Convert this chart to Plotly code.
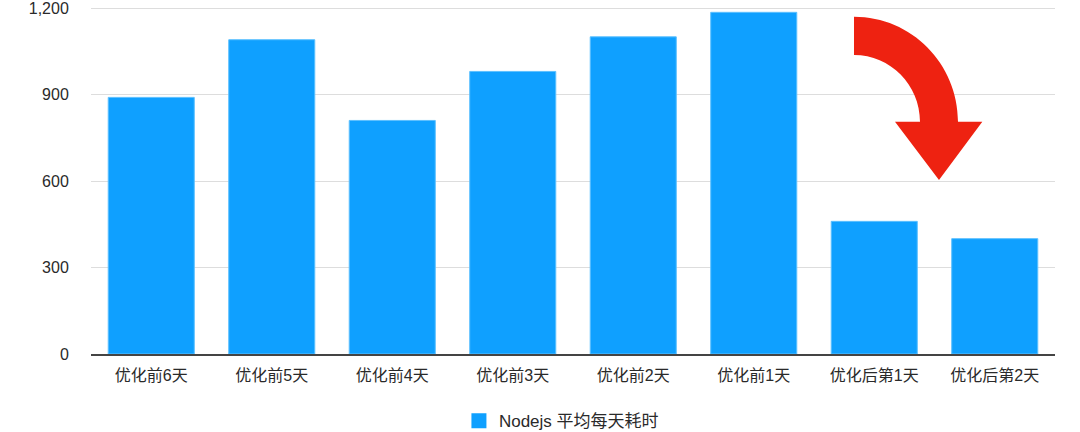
import plotly.graph_objects as go

categories = ["优化前6天", "优化前5天", "优化前4天", "优化前3天", "优化前2天", "优化前1天", "优化后第1天", "优化后第2天"]
values = [890, 1090, 810, 980, 1100, 1185, 460, 400]
series_name = "Nodejs 平均每天耗时"
y_ticks = [0, 300, 600, 900, 1200]

W, H = 1080, 432
L, R, T, B = 91, 25, 0, 78
pw, ph = W - L - R, H - T - B
y_top = 1200 * ph / 346.0  # 1200 gridline sits 8px below the top

def px(x, y):
    return (x - L) / pw, (H - B - y) / ph

def arrow_path():
    k = 0.5523
    cx, cy = 854, 121.7
    ro_x, ro_y = 104, 105
    ri_x, ri_y = 66, 66.7
    def p(x, y):
        a, b = px(x, y)
        return f"{a:.5f},{b:.5f}"
    d = f"M {p(cx, cy - ro_y)} "
    d += f"C {p(cx + k*ro_x, cy - ro_y)} {p(cx + ro_x, cy - k*ro_y)} {p(cx + ro_x, cy)} "
    d += f"L {p(982.3, cy)} L {p(939, 180)} L {p(895, cy)} L {p(cx + ri_x, cy)} "
    d += f"C {p(cx + ri_x, cy - k*ri_y)} {p(cx + k*ri_x, cy - ri_y)} {p(cx, cy - ri_y)} Z"
    return d

font_family = "Liberation Sans, Noto Sans CJK SC, sans-serif"
bar_color = "#0fa0ff"

fig = go.Figure()
fig.add_trace(go.Bar(
    x=categories, y=values, name=series_name,
    marker=dict(color=bar_color, line=dict(color="#5cc0ff", width=1)),
    showlegend=False,
))
fig.add_trace(go.Scatter(
    x=[None], y=[None], name=series_name, mode="markers",
    marker=dict(symbol="square", size=15, color=bar_color),
    showlegend=True,
))

fig.add_shape(type="path", xref="paper", yref="paper", path=arrow_path(),
              fillcolor="#ee2211", line=dict(width=0), layer="above")

fig.update_layout(
    width=W, height=H,
    margin=dict(l=L, r=R, t=T, b=B, autoexpand=False),
    plot_bgcolor="white", paper_bgcolor="white",
    bargap=0.286,
    font=dict(family=font_family, size=16, color="#2a2a2a"),
    xaxis=dict(showgrid=False, showline=True, linecolor="#444444", linewidth=1.5,
               ticks="outside", ticklen=6, tickcolor="rgba(0,0,0,0)", automargin=False,
               tickfont=dict(size=16, color="#2a2a2a")),
    yaxis=dict(range=[0, y_top], tickvals=y_ticks, tickformat=",", showgrid=True,
               gridcolor="#dddddd", gridwidth=1, zeroline=False, showline=False,
               ticks="outside", ticklen=18, tickcolor="rgba(0,0,0,0)", automargin=False,
               ticklabeloverflow="allow",
               tickfont=dict(size=16, color="#2a2a2a")),
    showlegend=True,
    legend=dict(orientation="h", x=0.488, xanchor="center", y=-0.19, yanchor="middle",
                font=dict(size=17, color="#2a2a2a"), itemsizing="trace"),
)

fig.write_html("out.html", config={"displayModeBar": False},
               post_script="document.body.style.margin='0px';document.body.style.overflow='hidden';")
